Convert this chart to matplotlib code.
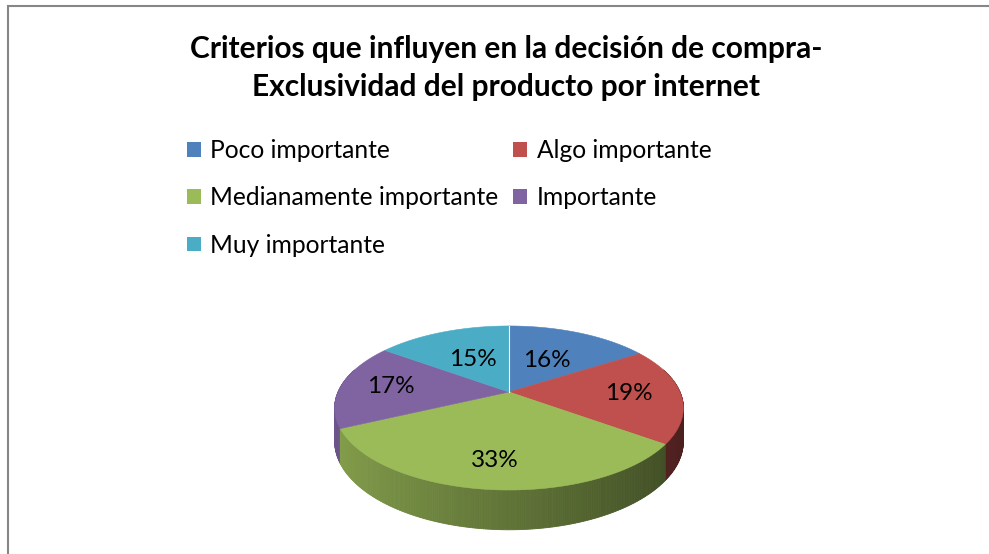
import numpy as np
import matplotlib
matplotlib.use("Agg")
import matplotlib.pyplot as plt
from matplotlib.patches import Polygon, Patch
from matplotlib.colors import to_rgb

# data
categories = ["Poco importante", "Algo importante", "Medianamente importante",
              "Importante", "Muy importante"]
values = [16, 19, 33, 17, 15]
colors = ["#4F81BD", "#C0504D", "#9BBB59", "#8064A2", "#4BACC6"]
title = "Criterios que influyen en la decisión de compra-\nExclusividad del producto por internet"

plt.rcParams["font.family"] = ["Lato", "DejaVu Sans"]

W, H_PX = 989, 554
fig = plt.figure(figsize=(W / 100, H_PX / 100), dpi=100)
ax = fig.add_axes([0, 0, 1, 1])
ax.set_xlim(0, W)
ax.set_ylim(H_PX, 0)
ax.axis("off")

# 3d pie geometry (pixel space)
cx, cy = 509, 392
A, Hh, k, D = 171, 78.9, 0.195, 32


def proj(theta, r=1.0, z=0.0):
    u = r * np.sin(theta)
    v = r * np.cos(theta)
    w = 1 + k * v
    return cx + A * u / w, cy - Hh * v / w + D * z / w


total = float(sum(values))
bounds = np.concatenate([[0], np.cumsum(values)]) / total * 2 * np.pi

# side walls, drawn far to near
strips = []
for i, c in enumerate(colors):
    ts = np.linspace(bounds[i], bounds[i + 1], max(int(values[i] * 6), 4))
    for t0, t1 in zip(ts[:-1], ts[1:]):
        tm = 0.5 * (t0 + t1)
        if np.cos(tm) > 0.3:
            continue
        f = 0.62 - 0.24 * np.sin(tm)
        col = tuple(min(1, ch * f) for ch in to_rgb(c))
        pts = [proj(t0), proj(t1), proj(t1, z=1), proj(t0, z=1)]
        strips.append((np.cos(tm), pts, col))
strips.sort(key=lambda s: -s[0])
for _, pts, col in strips:
    ax.add_patch(Polygon(pts, closed=True, facecolor=col, edgecolor=col, lw=0.6))

# top faces
for i, c in enumerate(colors):
    ts = np.linspace(bounds[i], bounds[i + 1], 80)
    pts = [proj(0, r=0)] + [proj(t) for t in ts]
    ax.add_patch(Polygon(pts, closed=True, facecolor=c, edgecolor=c, lw=0.4))
ax.plot(*zip(proj(0, r=0), proj(0)), color="white", lw=0.8)

# data labels
label_r = [0.5, 0.7, 0.75, 0.7, 0.5]
for i, val in enumerate(values):
    tm = 0.5 * (bounds[i] + bounds[i + 1])
    x, y = proj(tm, r=label_r[i])
    ax.text(x, y, f"{val}%", ha="center", va="center", fontsize=17.5, color="black")

# title
ax.text(506, 68, title, ha="center", va="center", fontsize=21.5, fontweight="bold",
        linespacing=1.42)

# legend (row-major order for 2 columns)
handles = [Patch(facecolor=c, edgecolor="none") for c in colors]
order = [0, 2, 4, 1, 3]
leg = ax.legend([handles[j] for j in order], [categories[j] for j in order],
                ncol=2, loc="upper left", bbox_to_anchor=(187 / W, 1 - 139 / H_PX),
                bbox_transform=fig.transFigure, frameon=False, fontsize=17.7,
                handlelength=0.55, handleheight=0.55, handletextpad=0.4,
                labelspacing=0.99, columnspacing=0.6, borderpad=0, borderaxespad=0)

# chart border
ax.plot([8, 8, W], [H_PX, 6, 6], color="#868686", lw=1.5, solid_joinstyle="miter")

fig.savefig("out.png", dpi=100)
